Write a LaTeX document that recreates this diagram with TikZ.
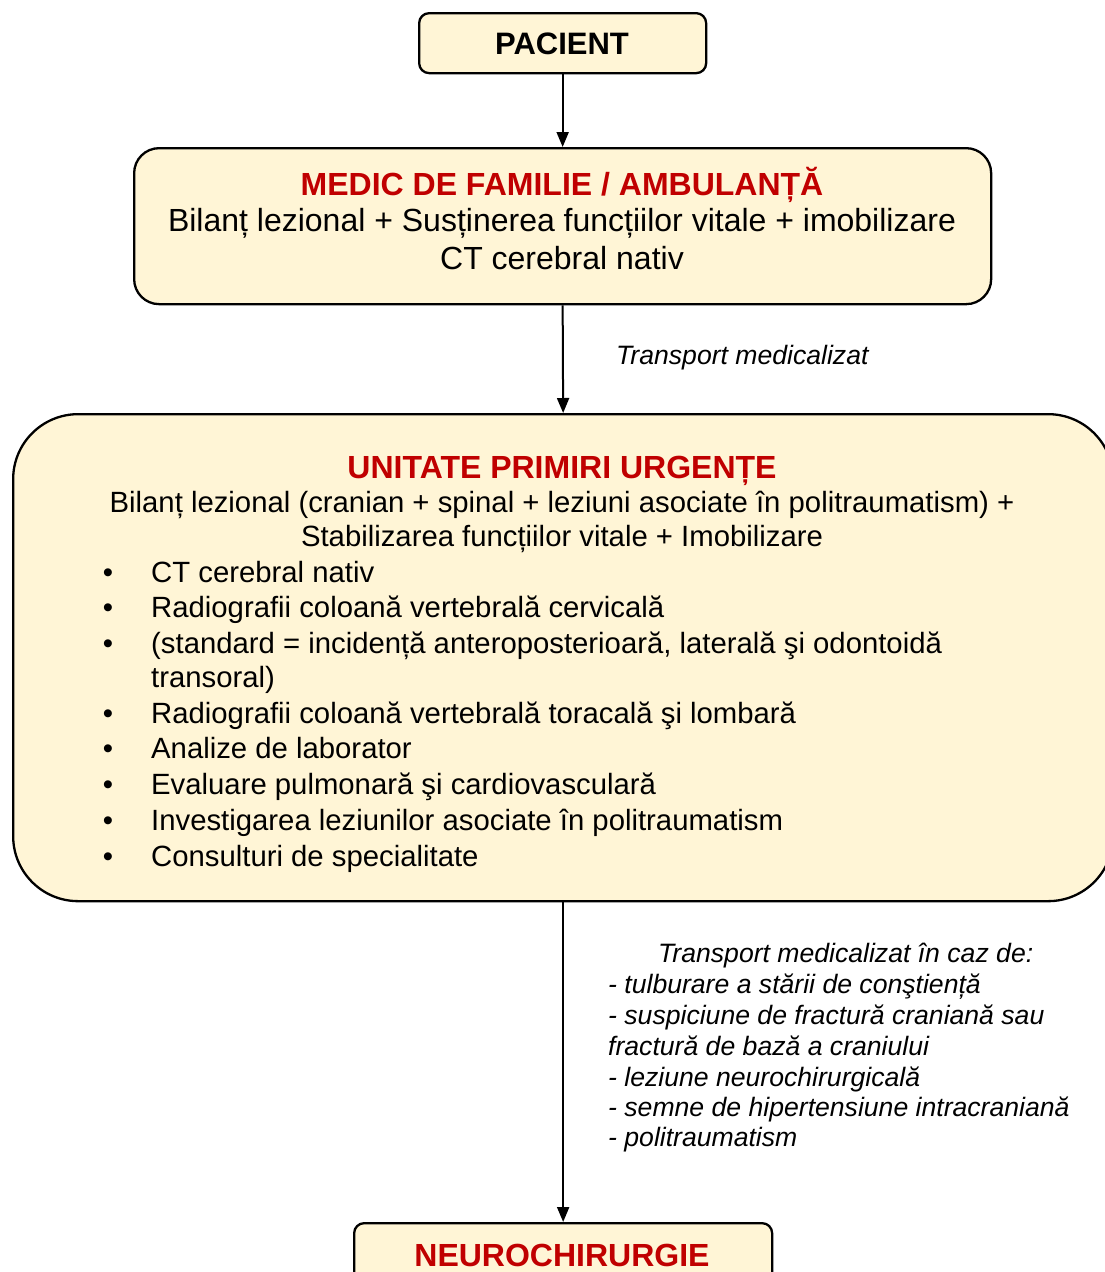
\documentclass[tikz,border=0pt]{standalone}
\usepackage{fontspec}
\setmainfont{Liberation Sans}
\usetikzlibrary{arrows.meta}
\definecolor{boxfill}{HTML}{FFF5D6}
\definecolor{titlered}{HTML}{C00000}
\begin{document}
\begin{tikzpicture}[x=1pt,y=-1pt,
  box/.style={draw=black, line width=2.3pt, fill=boxfill, inner sep=0pt},
  conn/.style={line width=2pt, -{Triangle[length=15pt,width=12pt]}},
  txt/.style={inner sep=0pt},
  titlebig/.style={txt, font=\fontsize{32}{38}\selectfont\bfseries, text=titlered, anchor=base},
  bodybig/.style={txt, font=\fontsize{32}{37}\selectfont, anchor=base},
  body/.style={txt, font=\fontsize{29.3}{35.5}\selectfont, anchor=base west},
  centerbody/.style={txt, font=\fontsize{29.3}{35.5}\selectfont, anchor=base},
  bul/.style={txt, font=\fontsize{29.3}{35.5}\selectfont, anchor=base},
  lbl/.style={txt, font=\fontsize{26.6}{30.7}\selectfont\itshape, anchor=base west}]
\useasboundingbox (0,0) rectangle (1105,1272);

% boxes
\node[box, rounded corners=10pt, minimum width=287pt, minimum height=60pt, anchor=north west] (pacient) at (418,12) {};
\node[box, rounded corners=25pt, minimum width=857pt, minimum height=156pt, anchor=north west] (medic) at (133,147) {};
\node[box, rounded corners=65pt, minimum width=1100pt, minimum height=487pt, anchor=north west] (upu) at (12,413) {};
\node[box, rounded corners=10pt, minimum width=418pt, minimum height=90pt, anchor=north west] (neuro) at (353,1222) {};

% connectors
\draw[conn] (pacient.south) -- (medic.north);
\draw[conn] (medic.south) -- (upu.north);
\draw[conn] (upu.south) -- (neuro.north);

% PACIENT
\node[txt, font=\fontsize{31}{37}\selectfont\bfseries, anchor=base] (tpac) at (562,54) {PACIENT};

% MEDIC
\node[titlebig] (tmedic) at (562,195.5) {MEDIC DE FAMILIE / AMBULANȚĂ};
\node[bodybig] (m1) at (562,231.5) {Bilanț lezional + Susținerea funcțiilor vitale + imobilizare};
\node[bodybig] (m2) at (562,269.5) {CT cerebral nativ};

% label 1
\node[lbl] (l1) at (616,364.5) {Transport medicalizat};

% UPU
\node[titlebig] (tupu) at (562,478.5) {UNITATE PRIMIRI URGENȚE};
\node[centerbody] (u1) at (562,512.5) {Bilanț lezional (cranian + spinal + leziuni asociate în politraumatism) +};
\node[centerbody] (u2) at (562,546.5) {Stabilizarea funcțiilor vitale + Imobilizare};

\foreach \yy/\tx [count=\i] in {582.5/{CT cerebral nativ},
  617.5/{Radiografii coloană vertebrală cervicală},
  653.5/{(standard = incidență anteroposterioară, laterală şi odontoidă},
  687.5/{transoral)},
  723.5/{Radiografii coloană vertebrală toracală şi lombară},
  758.5/{Analize de laborator},
  794.5/{Evaluare pulmonară şi cardiovasculară},
  830.5/{Investigarea leziunilor asociate în politraumatism},
  866.5/{Consulturi de specialitate}}
  {\node[body] (li\i) at (151,\yy) {\tx};}

\foreach \yy [count=\i] in {582.5,617.5,653.5,723.5,758.5,794.5,830.5,866.5}
  {\node[bul] (b\i) at (108,\yy) {•};}

% label 2
\node[lbl] (k0) at (658,962.5) {Transport medicalizat în caz de:};
\foreach \yy/\tx [count=\i] in {993.5/{- tulburare a stării de conştiență},
  1024.5/{- suspiciune de fractură craniană sau},
  1055.5/{fractură de bază a craniului},
  1086.5/{- leziune neurochirurgicală},
  1116.5/{- semne de hipertensiune intracraniană},
  1146.5/{- politraumatism}}
  {\node[lbl] (k\i) at (608,\yy) {\tx};}

% NEUROCHIRURGIE
\node[titlebig] (tneuro) at (562,1266.5) {NEUROCHIRURGIE};
\end{tikzpicture}
\end{document}
